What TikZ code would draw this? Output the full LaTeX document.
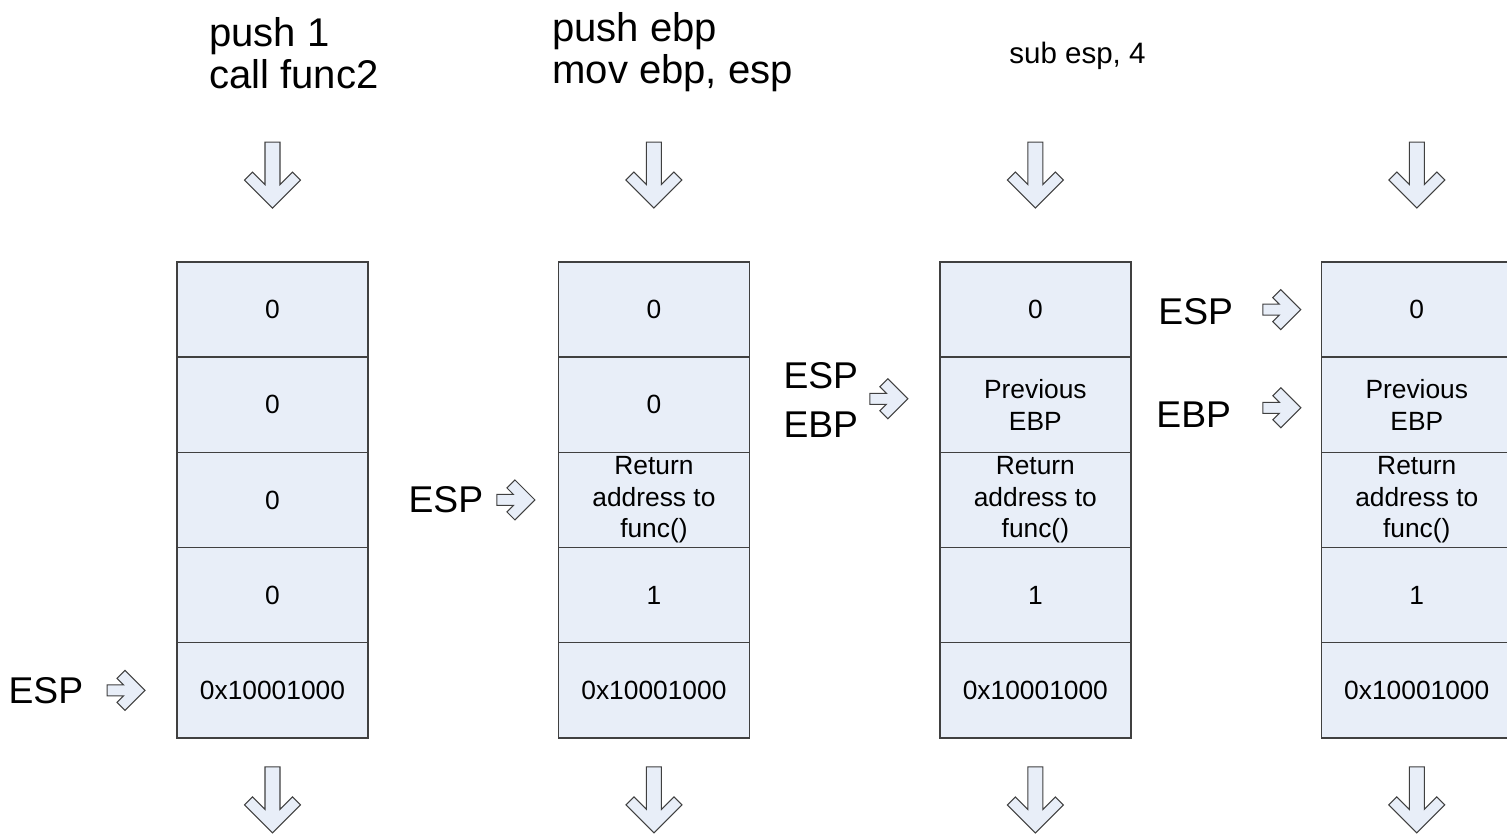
\documentclass[tikz,border=0pt]{standalone}
\usepackage{fontspec}
\setmainfont{Liberation Sans}
\usetikzlibrary{positioning}

\definecolor{cellfill}{RGB}{232,238,248}
\definecolor{edgegray}{RGB}{64,64,64}

\begin{document}
\begin{tikzpicture}[
  x=0.02cm, y=-0.02cm,
  cell/.style={rectangle, draw=edgegray, fill=cellfill, line width=0.8pt,
    minimum width=3.82cm, minimum height=1.904cm, inner sep=0pt, outer sep=0pt,
    align=center, font=\fontsize{15}{18}\selectfont},
  reg/.style={inner sep=0pt, align=left, font=\fontsize{21.2}{27.8}\selectfont},
  code/.style={inner sep=0pt, anchor=north west, align=left,
    font=\fontsize{22.8}{23.8}\selectfont},
  blockarrow/.style={draw=edgegray, fill=cellfill, line width=0.6pt},
  downarrow/.pic={\draw[blockarrow] (-7.5,0) -- (7.5,0) -- (7.5,42.5) -- (20,30)
    -- (28,38) -- (0,66) -- (-28,38) -- (-20,30) -- (-7.5,42.5) -- cycle;},
  rightarrow/.pic={\draw[blockarrow] (0,-5.5) -- (16.5,-5.5) -- (10,-12) -- (18,-20)
    -- (38,0) -- (18,20) -- (10,12) -- (16.5,5.5) -- (0,5.5) -- cycle;}
]
\useasboundingbox (0,0) rectangle (1507,834);

% instructions
\node[code] (ins1) at (209,17) {push 1\\call func2};
\node[code] (ins2) at (552,12) {push ebp\\mov ebp, esp};
\node[code, anchor=west, font=\fontsize{16.8}{20}\selectfont] (ins3) at (1009,56) {sub esp, 4};

% stack after call
\node[cell] (a1) at (272.5,309.6) {0};
\node[cell, below=0pt of a1] (a2) {0};
\node[cell, below=0pt of a2] (a3) {0};
\node[cell, below=0pt of a3] (a4) {0};
\node[cell, below=0pt of a4] (a5) {0x10001000};

% stack after push ebp
\node[cell, right=3.81cm of a1] (b1) {0};
\node[cell, below=0pt of b1] (b2) {0};
\node[cell, below=0pt of b2] (b3) {Return\\address to\\func()};
\node[cell, below=0pt of b3] (b4) {1};
\node[cell, below=0pt of b4] (b5) {0x10001000};

% stack after mov ebp, esp
\node[cell, right=3.81cm of b1] (c1) {0};
\node[cell, below=0pt of c1] (c2) {Previous\\EBP};
\node[cell, below=0pt of c2] (c3) {Return\\address to\\func()};
\node[cell, below=0pt of c3] (c4) {1};
\node[cell, below=0pt of c4] (c5) {0x10001000};

% stack after sub esp
\node[cell, right=3.81cm of c1] (d1) {0};
\node[cell, below=0pt of d1] (d2) {Previous\\EBP};
\node[cell, below=0pt of d2] (d3) {Return\\address to\\func()};
\node[cell, below=0pt of d3] (d4) {1};
\node[cell, below=0pt of d4] (d5) {0x10001000};

% registers
\node[reg, left=1.87cm of a5] (esp1) {ESP};
\node[reg, left=1.5cm of b3] (esp2) {ESP};
\node[reg, left=1.63cm of c2, yshift=0.1cm] (espebp3) {ESP\\EBP};
\node[reg, left=1.76cm of d1, yshift=-0.05cm] (esp4) {ESP};
\node[reg, left=1.8cm of d2, yshift=-0.2cm] (ebp4) {EBP};

\pic at ([xshift=-1.4cm]a5.west) {rightarrow};
\pic at ([xshift=-1.23cm]b3.west) {rightarrow};
\pic at ([xshift=-1.4cm, yshift=0.12cm]c2.west) {rightarrow};
\pic at ([xshift=-1.17cm]d1.west) {rightarrow};
\pic at ([xshift=-1.17cm, yshift=-0.06cm]d2.west) {rightarrow};

% flow arrows
\foreach \col in {a,b,c,d} {
  \pic at ([yshift=2.4cm]\col1.north) {downarrow};
  \pic at ([yshift=-0.58cm]\col5.south) {downarrow};
}
\end{tikzpicture}
\end{document}
